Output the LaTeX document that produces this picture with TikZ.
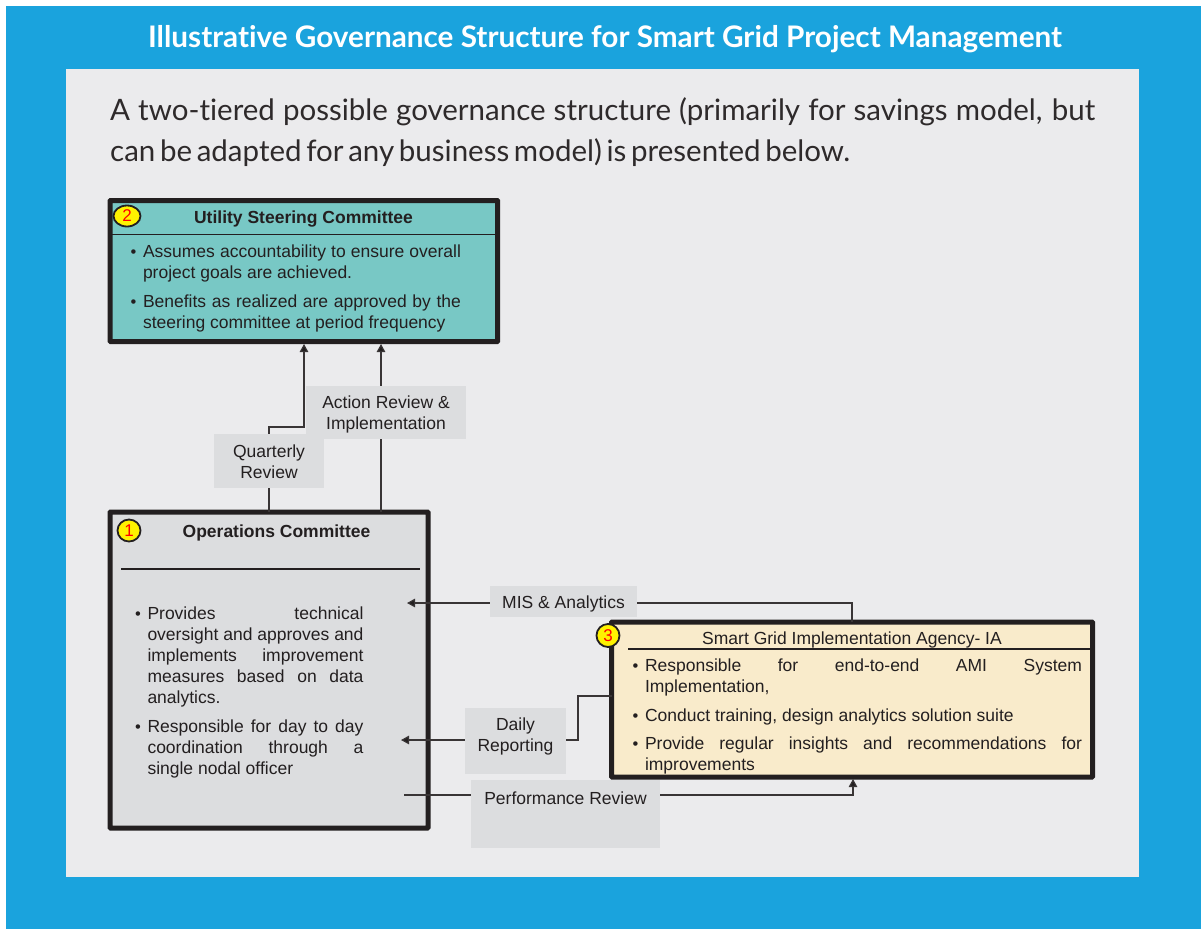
\documentclass[tikz,border=0pt]{standalone}
\usepackage{fontspec}
\setmainfont{Liberation Sans}
\newfontfamily\latofont[Ligatures=NoCommon]{Lato}
\usetikzlibrary{arrows.meta,shapes.geometric}
\definecolor{bluebg}{HTML}{1AA3DD}
\definecolor{panel}{HTML}{EBEBED}
\definecolor{teal1}{HTML}{78C8C5}
\definecolor{grey1}{HTML}{DCDDDF}
\definecolor{cream}{HTML}{F9EBCB}
\definecolor{ink}{HTML}{231F20}
\definecolor{badgey}{HTML}{FFF200}
\pgfdeclarelayer{fg}
\pgfsetlayers{main,fg}
\newcommand{\bodyfont}{\fontsize{17.5}{21}\selectfont}
\newcommand{\listsetup}{\bodyfont\setlength{\parskip}{8pt}\setlength{\parindent}{0pt}\tolerance=10000 \hbadness=10000 \hfuzz=5pt }
\newcommand{\bul}{\leavevmode\llap{{\fontsize{16.5}{14}\selectfont •}\hspace{6.5pt}}}
\newcommand{\blbox}[2]{\parbox[t]{#1}{\listsetup #2}}
\tikzset{
  boxA/.style={draw=ink,line width=5pt,rounded corners=0.6pt,outer sep=0pt,inner sep=0pt,anchor=center},
  divider/.style={draw=ink,line width=1.7pt},
  conn/.style={draw=ink!90,line width=1.15pt},
  connarrow/.style={conn,-{Triangle[length=8pt,width=8.5pt,fill=ink]}},
  lab/.style={fill=grey1,text=ink,font=\bodyfont,align=center,inner sep=0pt,outer sep=0pt,anchor=center},
  blist/.style={text=ink,anchor=base west,inner sep=0pt,outer sep=0pt},
  badge/.style={ellipse,draw=ink,line width=1.8pt,fill=badgey,text=red,font=\fontsize{17}{17}\selectfont,inner sep=0pt,anchor=center},
  boxtitle/.style={text=ink,font=\fontsize{17.5}{20}\selectfont\bfseries,inner sep=0pt,anchor=base},
  subhead/.style={text=ink!95,font=\latofont\fontsize{29.5}{36}\selectfont,inner sep=0pt,anchor=base west}
}
\begin{document}
\begin{tikzpicture}[x=1pt,y=-1pt]
\useasboundingbox (0,0) rectangle (1201,929);
\fill[white] (0,0) rectangle (1201,929);
\fill[bluebg] (6,6) rectangle (1201,929);
\fill[panel] (66,69) rectangle (1139,877);

\node[text=white,font=\latofont\fontsize{29.7}{36}\selectfont\bfseries,inner sep=0pt,anchor=base] (title) at (605,47) {Illustrative Governance Structure for Smart Grid Project Management};
\node[subhead] (sub1) at (110,120) {\hbox to 985pt{\spaceskip=0.1em plus 1em\relax A two-tiered possible governance structure (primarily for savings model, but}};
\node[subhead] (sub2) at (110,161) {\hbox to 740pt{\spaceskip=0.05em plus 1em\relax can be adapted for any business model) is presented below.}};

% boxes
\node[boxA,fill=teal1,minimum width=387.7pt,minimum height=141pt] (usc) at (303.85,271) {};
\node[boxA,fill=grey1,minimum width=318pt,minimum height=316pt] (ops) at (269,670) {};
\node[boxA,fill=cream,minimum width=481pt,minimum height=155pt] (ia) at (852,699.5) {};

% headers
\draw[divider] (usc.west |- 0,234.5) -- (usc.east |- 0,234.5);
\draw[divider] (121,569) -- (419.5,569);
\draw[divider] (628,649) -- (ia.east |- 0,649);

\node[boxtitle] (usct) at (303.5,223) {Utility Steering Committee};
\node[boxtitle] (opst) at (276.5,537.5) {Operations Committee};
\node[text=ink,font=\fontsize{17.5}{20}\selectfont,inner sep=0pt,anchor=base] (iat) at (852,644.5) {Smart Grid Implementation Agency- IA};

\node[badge,minimum width=27pt,minimum height=21pt] (b2) at (127,216) {2};
\node[badge,minimum width=23pt,minimum height=22pt] (b1) at (129,530.5) {1};
\node[badge,minimum width=23pt,minimum height=23pt] (b3) at (608,635.5) {3};

% lists
\node[blist] (uscl) at (143,257) {\blbox{318pt}{%
\bul Assumes accountability to ensure overall\linebreak project goals are achieved.\par
\bul Benefits as realized are approved by the\linebreak steering committee at period frequency}};
\node[blist] (opsl) at (147.5,619) {\blbox{216pt}{%
\bul Provides technical\linebreak oversight and approves and\linebreak implements improvement\linebreak measures based on data\linebreak analytics.\par
\bul Responsible for day to day\linebreak coordination through a\linebreak single nodal officer}};
\node[blist] (ial) at (645,671) {\blbox{437pt}{%
\bul Responsible for end-to-end AMI System\linebreak Implementation,\par
\bul Conduct training, design analytics solution suite\par\vspace{-0.6pt}
\bul Provide regular insights and recommendations for\linebreak improvements}};

% labels on top of the connectors
\begin{pgfonlayer}{fg}
\node[lab,minimum width=110pt,minimum height=54pt] (qr) at (269,461) {\rule{0pt}{14pt}Quarterly\\[0pt]Review};
\node[lab,minimum width=160pt,minimum height=53pt] (ar) at (386,412.5) {\rule{0pt}{17pt}Action Review \&\\[0pt]Implementation};
\node[lab,minimum width=147pt,minimum height=31pt] (mis) at (563.5,601.5) {\rule{0pt}{17pt}MIS \& Analytics};
\node[lab,minimum width=101pt,minimum height=66pt] (dr) at (515.5,741) {Daily\\[0pt]Reporting\rule[-12pt]{0pt}{12pt}};
\node[lab,minimum width=189pt,minimum height=68pt,text depth=32pt,text height=12pt] (pr) at (565.5,814) {Performance Review};
\end{pgfonlayer}

% free ends inside the Operations Committee box
\coordinate (opsmis) at (407,603);
\coordinate (opsdr) at (401,740);
\coordinate (opspr) at (404,795);

% connectors
\draw[connarrow] (qr.north |- ops.north) -- (269,427) -| (304,344);
\draw[connarrow] (381,512) -- (381,344);
\draw[connarrow] (852,622) |- (opsmis);
\draw[connarrow] (ia.west |- 0,696) -- (578,696) |- (opsdr);
\draw[connarrow] (opspr) -| (853,779);
\end{tikzpicture}
\end{document}
